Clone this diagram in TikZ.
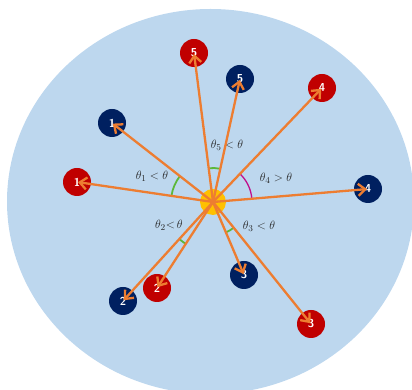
\documentclass[tikz,border=0pt]{standalone}
\usepackage{amsmath,amssymb}
\usepackage{tikz}
\usetikzlibrary{arrows.meta,angles}
\definecolor{bgblue}{HTML}{BDD7EE}
\definecolor{dotred}{HTML}{C00000}
\definecolor{dotnavy}{HTML}{002060}
\definecolor{rayorange}{HTML}{ED7D31}
\definecolor{hubgold}{HTML}{FFC000}
\definecolor{arcgreen}{HTML}{5DB83A}
\definecolor{arcmag}{HTML}{C0108C}
\definecolor{lblgray}{HTML}{262626}

\begin{document}
\begin{tikzpicture}[x=1pt,y=1pt,
  dot/.style={circle,minimum size=28pt,inner sep=0pt,text=white,font=\sffamily\bfseries\fontsize{11.5}{13}\selectfont},
  rdot/.style={dot,fill=dotred},
  bdot/.style={dot,fill=dotnavy},
  ray/.style={draw=rayorange,line width=2.3pt,-{Straight Barb[length=7pt,width=12pt]},shorten >=1pt},
  arc/.style={draw=arcgreen,line width=1.8pt},
  lbl/.style={text=lblgray,font=\fontsize{12.5}{14}\selectfont}]
\useasboundingbox (0,0) rectangle (412,390);
\clip (0,0) rectangle (412,390);
\fill[bgblue] (210.5,188.5) ellipse (203.5 and 192.5);
% centre and the ten points
\node[circle,fill=hubgold,minimum size=26pt,inner sep=0pt] (hub) at (213,188) {};
\node[rdot] (r1) at (77,208) {1};  \node[bdot] (b1) at (112,267) {1};
\node[rdot] (r2) at (157,102) {2}; \node[bdot] (b2) at (123,89) {2};
\node[rdot] (r3) at (311,66) {3};  \node[bdot] (b3) at (244,115) {3};
\node[rdot] (r4) at (322,302) {4}; \node[bdot] (b4) at (368,201) {4};
\node[rdot] (r5) at (194,337) {5}; \node[bdot] (b5) at (240,311) {5};
% angles
\pic[arc,angle radius=42pt] {angle=b1--hub--r1};
\pic[arc,angle radius=50pt] {angle=b2--hub--r2};
\pic[arc,angle radius=33pt] {angle=b3--hub--r3};
\pic[arc,draw=arcmag,line width=1.3pt,angle radius=39pt] {angle=b4--hub--r4};
\pic[arc,angle radius=34pt] {angle=b5--hub--r5};
\node[lbl] (t1) at (152,214) {$\theta_1<\theta$};
\node[lbl] (t2) at (169,165) {$\theta_2{<}\,\theta$};
\node[lbl] (t3) at (259,164) {$\theta_3<\theta$};
\node[lbl] (t4) at (276,212) {$\theta_4>\theta$};
\node[lbl] (t5) at (227,245) {$\theta_5<\theta$};
% rays
\foreach \n in {r1,b1,r2,b2,r3,b3,r4,b4,r5,b5}
  \draw[ray] (hub.center) -- (\n.center);
\end{tikzpicture}
\end{document}
